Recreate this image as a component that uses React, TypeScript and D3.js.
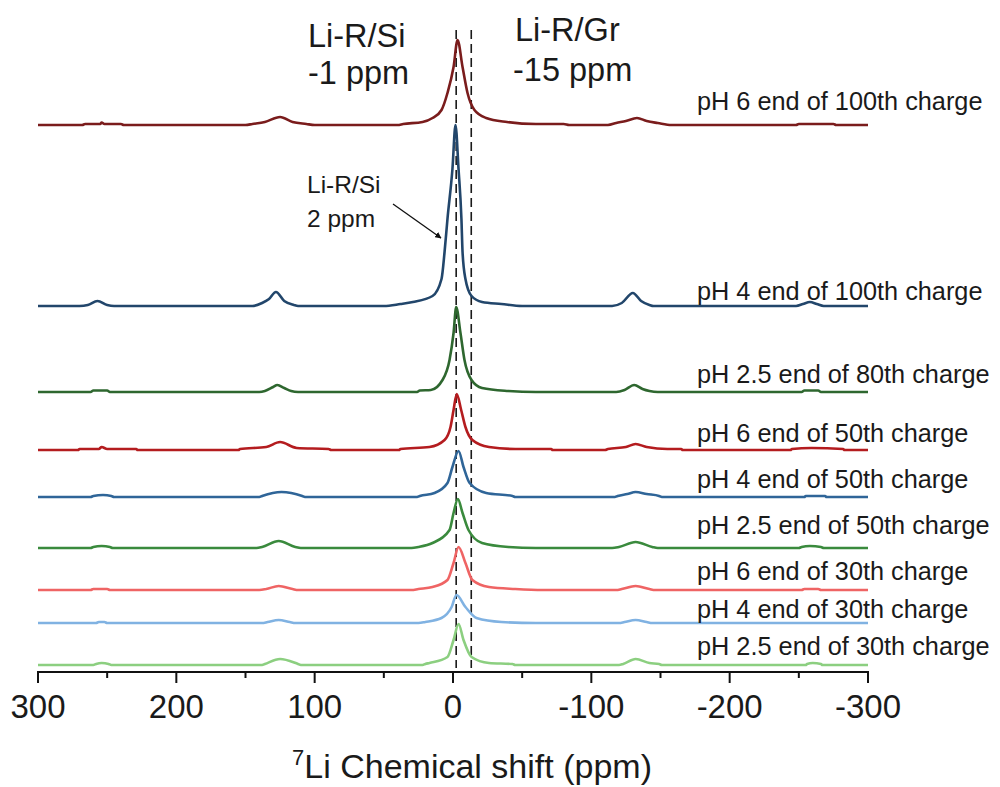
import React, { useEffect, useRef } from "react";
import * as d3 from "d3";

// stacked 7Li NMR spectra, [ppm, intensity a.u.]
const LABELS = [
  "pH 6 end of 100th charge",
  "pH 4 end of 100th charge",
  "pH 2.5 end of 80th charge",
  "pH 6 end of 50th charge",
  "pH 4 end of 50th charge",
  "pH 2.5 end of 50th charge",
  "pH 6 end of 30th charge",
  "pH 4 end of 30th charge",
  "pH 2.5 end of 30th charge"
];
const COLORS = [
  "#7a1c1c",
  "#22466b",
  "#2e672f",
  "#b41c1f",
  "#2f6598",
  "#3a8a3d",
  "#ef6464",
  "#80b2e2",
  "#8ccf80"
];
// vertical stacking offset of each spectrum (a.u.)
const OFFSETS = [540, 359, 273, 215, 168, 117, 75, 42, 0];

const S1 = [[300,0],[268,0],[266,1],[255,1],[254,2.5],[252,1],[240,1],[238,0],[150,0],[145,1],[136,3],[125,8],[116,3],[106,1],[100,0],[40,0],[36,1],[22,3],[14.8,7],[8.3,15],[4,32],[-0.4,58],[-3.3,85],[-6.9,58],[-10.5,32],[-15.5,15],[-24,7],[-39,3],[-60,1],[-80,1],[-84,0],[-112,0],[-118,2],[-125,4],[-133,7],[-140,4],[-148,2],[-158,0],[-248,0],[-250,1],[-275,1],[-277,0],[-300,0]];
const S2 = [[300,0],[270,0],[264,1],[257,5],[250,1],[245,0],[145,0],[138,3],[133,7],[128,14],[122,5],[115,1],[112,0],[50,0],[38,2],[29,4],[14.8,10],[8.3,27],[6.1,54],[4,87],[0.4,137],[-1.8,181],[-4,137],[-6.1,87],[-6.9,54],[-9,27],[-13.4,10],[-21,4],[-35,2],[-50,0],[-115,0],[-122,3],[-130,13],[-136,5],[-142,1],[-145,0],[-248,0],[-253,2],[-258,4],[-263,2],[-268,0],[-300,0]];
const S3 = [[300,0],[262,0],[260,1.5],[250,1.5],[248,0],[140,0],[136,1],[130,5],[127,7],[122,4],[117,1],[112,0],[26,0],[24,1.5],[16,2],[7.6,12],[2.5,32],[-0.4,59],[-2.3,85],[-5.4,59],[-8.3,32],[-13.4,12],[-21,4],[-40,1],[-60,0],[-118,0],[-124,2],[-131,7],[-137,3],[-142,1],[-148,0],[-252,0],[-254,1.5],[-264,1.5],[-266,0],[-300,0]];
const S4 = [[300,0],[271,0],[270,1],[256,1],[254,3],[250,1],[229,1],[228,0],[155,0],[154,1],[135,3],[125,8],[113,2],[90,1],[88,0],[39,0],[38,1],[17,3],[6.1,10],[1.8,23],[-0.4,40],[-2.7,56],[-5.9,40],[-9,23],[-14,10],[-26,3],[-45,1],[-71,1],[-72,0],[-110,0],[-112,1],[-125,3],[-132,6],[-140,3],[-155,1],[-165,1],[-166,0],[-244,0],[-245,1],[-259,2],[-282,1],[-283,0],[-300,0]];
const S5 = [[300,0],[262,0],[260,1],[253,2],[247,1],[245,0],[140,0],[138,1],[124,5],[109,1],[107,0],[26,0],[24,1],[13.4,4],[4,14],[0.4,30],[-4,46],[-7.6,30],[-12,14],[-24,4],[-43,1],[-45,0],[-117,0],[-119,1],[-126,3],[-132,5],[-140,3],[-149,1],[-151,0],[-254,0],[-255,1],[-269,1],[-270,0],[-300,0]];
const S6 = [[300,0],[262,0],[260,1],[254,2],[248,1],[246,0],[142,0],[138,1],[126,7],[114,1],[110,0],[30,0],[25,1],[14.8,5],[2.5,18],[-0.4,35],[-3.5,49],[-6.9,35],[-11.2,18],[-21,5],[-40,1],[-60,0],[-115,0],[-120,1],[-132,6],[-144,1],[-148,0],[-250,0],[-252,1],[-258,2],[-266,1],[-268,0],[-300,0]];
const S7 = [[300,0],[262,0],[260,1],[250,1],[248,0],[140,0],[135,1],[126,4],[116,1],[112,0],[30,0],[25,1],[14.8,3],[4,10],[-0.4,27],[-4,43],[-9,27],[-14,10],[-26,3],[-45,1],[-65,0],[-118,0],[-122,1],[-132,4],[-142,1],[-146,0],[-252,0],[-254,1],[-264,1],[-266,0],[-300,0]];
const S8 = [[300,0],[258,0],[256,1],[252,1],[250,0],[138,0],[134,1],[126,3],[118,1],[114,0],[25,0],[20,1],[8.3,5],[1,16],[-2.5,28],[-9,16],[-17,5],[-35,1],[-60,0],[-120,0],[-124,1],[-132,3],[-140,1],[-144,0],[-300,0]];
const S9 = [[300,0],[260,0],[258,1],[254,2],[249,1],[247,0],[138,0],[136,1],[125,6],[112,1],[110,0],[22,0],[20,1],[17,2],[4,8],[-0.4,25],[-4,41],[-7.6,25],[-13.4,8],[-26,2],[-43,1],[-45,0],[-120,0],[-123,1],[-132,6],[-142,2],[-149,1],[-151,0],[-255,0],[-256,1],[-260,2],[-266,1],[-267,0],[-300,0]];
const SERIES = [S1, S2, S3, S4, S5, S6, S7, S8, S9];

const X_TICKS = [300, 200, 100, 0, -100, -200, -300];
const X_MINOR = [250, 150, 50, -50, -150, -250];
// reference shifts marked with dashed lines (ppm)
const DASH_PPM = [-2.3, -13.2];

const W = 1000;
const H = 787;
const FONT = "'Liberation Sans', Arial, sans-serif";
// how far each label baseline sits above its spectrum (px)
const LABEL_LIFT = [15, 6, 9, 8, 9, 14, 10, 5, 10];

export default function App() {
  const ref = useRef<SVGSVGElement>(null);

  useEffect(() => {
    const svg = d3.select(ref.current);
    svg.selectAll("*").remove();

    const x = d3.scaleLinear().domain([300, -300]).range([38, 868]);
    const y = d3.scaleLinear().domain([0, 640]).range([665, 25]);
    const axisY = 672;

    // dashed reference lines
    svg
      .append("g")
      .selectAll("line")
      .data(DASH_PPM)
      .join("line")
      .attr("x1", d => x(d))
      .attr("x2", d => x(d))
      .attr("y1", y(635))
      .attr("y2", y(-3))
      .attr("stroke", "#1a1a1a")
      .attr("stroke-width", 1.6)
      .attr("stroke-dasharray", "9,5");

    const line = d3
      .line<number[]>()
      .curve(d3.curveMonotoneX)
      .x(d => x(d[0]))
      .y(d => d[1]);

    SERIES.forEach((s, i) => {
      const pts = s.map(d => [d[0], y(d[1] + OFFSETS[i])]);
      svg
        .append("path")
        .datum(pts)
        .attr("fill", "none")
        .attr("stroke", COLORS[i])
        .attr("stroke-width", 2.6)
        .attr("stroke-linejoin", "round")
        .attr("d", line);

      svg
        .append("text")
        .attr("x", 697)
        .attr("y", y(OFFSETS[i]) - LABEL_LIFT[i])
        .attr("font-family", FONT)
        .attr("font-size", 25.3)
        .attr("fill", "#1a1a1a")
        .text(LABELS[i]);
    });

    // bottom axis
    const ax = svg.append("g").attr("transform", `translate(0,${axisY})`);
    ax.append("line")
      .attr("x1", x(300) - 1)
      .attr("x2", x(-300) + 1)
      .attr("stroke", "#111")
      .attr("stroke-width", 2);
    ax.selectAll("line.major")
      .data(X_TICKS)
      .join("line")
      .attr("class", "major")
      .attr("x1", d => x(d))
      .attr("x2", d => x(d))
      .attr("y1", 0)
      .attr("y2", 11)
      .attr("stroke", "#111")
      .attr("stroke-width", 2);
    ax.selectAll("line.minor")
      .data(X_MINOR)
      .join("line")
      .attr("class", "minor")
      .attr("x1", d => x(d))
      .attr("x2", d => x(d))
      .attr("y1", 0)
      .attr("y2", 6)
      .attr("stroke", "#111")
      .attr("stroke-width", 2);
    ax.selectAll("text")
      .data(X_TICKS)
      .join("text")
      .attr("x", d => x(d))
      .attr("y", 46)
      .attr("text-anchor", "middle")
      .attr("font-family", FONT)
      .attr("font-size", 33)
      .attr("fill", "#1a1a1a")
      .text(d => String(d));

    // axis title with superscript
    const title = svg
      .append("text")
      .attr("x", 472)
      .attr("y", 778)
      .attr("text-anchor", "middle")
      .attr("font-family", FONT)
      .attr("font-size", 34)
      .attr("fill", "#1a1a1a");
    title.append("tspan").attr("font-size", 22).attr("dy", -13).text("7");
    title.append("tspan").attr("dy", 13).text("Li Chemical shift (ppm)");

    // annotations
    const note = (tx: number, ty: number, s: string, size: number) =>
      svg
        .append("text")
        .attr("x", tx)
        .attr("y", ty)
        .attr("font-family", FONT)
        .attr("font-size", size)
        .attr("fill", "#1a1a1a")
        .text(s);
    note(308, 47, "Li-R/Si", 32.5);
    note(308, 84, "-1 ppm", 32.5);
    note(515, 41, "Li-R/Gr", 32.5);
    note(513, 81, "-15 ppm", 32.5);
    note(307, 193, "Li-R/Si", 24.5);
    note(307, 227, "2 ppm", 24.5);

    svg
      .append("defs")
      .append("marker")
      .attr("id", "arrow")
      .attr("viewBox", "0 0 10 10")
      .attr("refX", 9)
      .attr("refY", 5)
      .attr("markerWidth", 5)
      .attr("markerHeight", 5)
      .attr("orient", "auto")
      .append("path")
      .attr("d", "M0,0 L10,5 L0,10 z")
      .attr("fill", "#111");
    svg
      .append("line")
      .attr("x1", 393)
      .attr("y1", 204)
      .attr("x2", 441)
      .attr("y2", 238)
      .attr("stroke", "#111")
      .attr("stroke-width", 1.3)
      .attr("marker-end", "url(#arrow)");
  }, []);

  return (
    <div style={{ position: "absolute", left: 0, top: 0 }}>
      <svg ref={ref} width={W} height={H} style={{ display: "block", background: "#fff" }} />
    </div>
  );
}
